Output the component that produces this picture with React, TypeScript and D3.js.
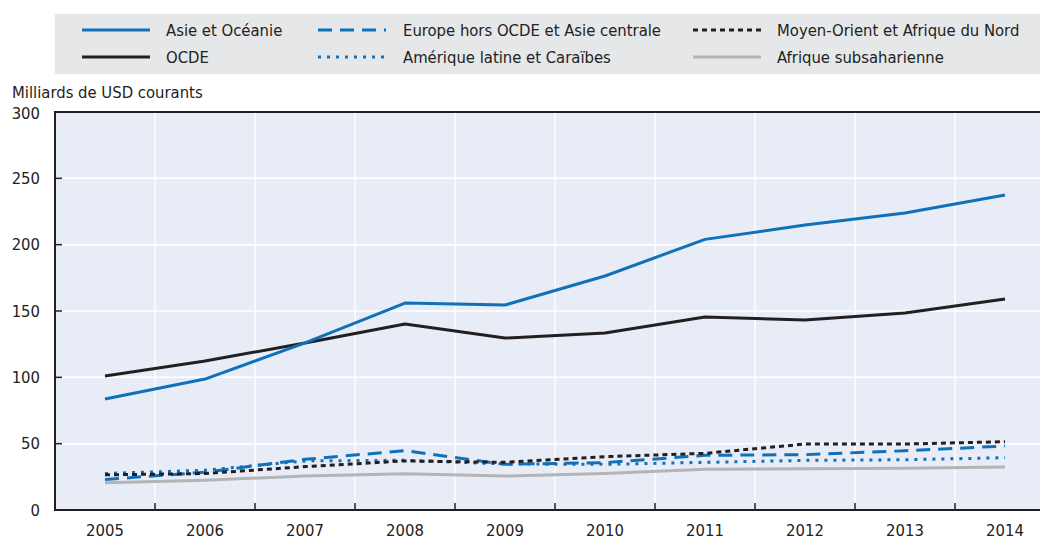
import React from "react";
import * as d3 from "d3";

const years = ["2005", "2006", "2007", "2008", "2009", "2010", "2011", "2012", "2013", "2014"];
const asie = [83.7, 98.7, 126, 156, 154.5, 176.4, 204, 214.8, 223.9, 237.4];
const ocde = [101, 112.3, 125.9, 140.2, 129.6, 133.4, 145.5, 143.2, 148.5, 159];
const europe = [23, 28.5, 38.2, 44.7, 34.4, 35.7, 41.2, 41.7, 44.7, 48.2];
const latam = [27.5, 30, 37, 37.5, 34.7, 34.4, 35.9, 37.4, 37.9, 39.4];
const mena = [26.5, 27.5, 32.7, 37, 35.9, 40.2, 42.7, 49.7, 49.7, 51.5];
const afrique = [20.5, 22.5, 25.6, 27.4, 25.6, 27.5, 30.7, 31, 31.4, 32.4];
const yTicks = [0, 50, 100, 150, 200, 250, 300];

const BLUE = "#1070b8";
const BLACK = "#231f20";
const GREY = "#b4b4b4";

const series = [
  { name: "Asie et Océanie", values: asie, color: BLUE, dash: "", col: 0, row: 0 },
  { name: "OCDE", values: ocde, color: BLACK, dash: "", col: 0, row: 1 },
  { name: "Europe hors OCDE et Asie centrale", values: europe, color: BLUE, dash: "14,8", col: 1, row: 0 },
  { name: "Amérique latine et Caraïbes", values: latam, color: BLUE, dash: "3,6", col: 1, row: 1 },
  { name: "Moyen-Orient et Afrique du Nord", values: mena, color: BLACK, dash: "5,4", col: 2, row: 0 },
  { name: "Afrique subsaharienne", values: afrique, color: GREY, dash: "", col: 2, row: 1 },
];
const drawOrder = [5, 3, 2, 4, 1, 0];

const W = 1040, H = 539;
const left = 55, top = 112, bottom = 510, right = 1040;
const FONT = "'Liberation Sans Narrow', 'DejaVu Sans Condensed', 'Roboto', sans-serif";

export default function App() {
  const x = d3.scaleBand().domain(years).range([left, left + 1000]);
  const y = d3.scaleLinear().domain([0, 300]).range([bottom, top]);
  const cx = (yr: string) => (x(yr) as number) + x.bandwidth() / 2;
  const line = d3.line<number>().x((_, i) => cx(years[i])).y((v) => y(v));
  const legendCols = [
    { lx: 82, tx: 166 },
    { lx: 318, tx: 403 },
    { lx: 693, tx: 777 },
  ];
  const legendRows = [30, 57];
  return (
    <svg width={W} height={H} style={{ position: "absolute", left: 0, top: 0 }} fontFamily={FONT}>
      <rect x={55} y={14} width={985} height={60} fill="#e6e7e8" />
      {series.map((s) => (
        <g key={s.name}>
          <line x1={legendCols[s.col].lx} x2={legendCols[s.col].lx + 68} y1={legendRows[s.row]} y2={legendRows[s.row]}
            stroke={s.color} strokeWidth={3} strokeDasharray={s.dash} />
          <text x={legendCols[s.col].tx} y={legendRows[s.row]} dy="0.35em" fontSize={16.5} fill="#222">{s.name}</text>
        </g>
      ))}
      <text x={12} y={92} dy="0.35em" fontSize={16.5} fill="#222">Milliards de USD courants</text>
      <rect x={left} y={top} width={right - left} height={bottom - top} fill="#e8ecf6" />
      {yTicks.filter((t) => t > 0 && t < 300).map((t) => (
        <line key={t} x1={left} x2={right} y1={y(t)} y2={y(t)} stroke="#fff" strokeWidth={1.5} />
      ))}
      {years.slice(1).map((yr) => (
        <line key={yr} x1={x(yr) as number} x2={x(yr) as number} y1={top} y2={bottom} stroke="#fff" strokeWidth={1.5} />
      ))}
      {drawOrder.map((i) => {
        const s = series[i];
        return <path key={s.name} d={line(s.values) || ""} fill="none" stroke={s.color} strokeWidth={3}
          strokeDasharray={s.dash} strokeLinejoin="round" />;
      })}
      <line x1={left} x2={right} y1={top} y2={top} stroke={BLACK} strokeWidth={2} />
      <line x1={left} x2={left} y1={top - 1} y2={bottom} stroke={BLACK} strokeWidth={2} />
      <line x1={left - 1} x2={right} y1={bottom} y2={bottom} stroke={BLACK} strokeWidth={2} />
      {yTicks.map((t) => (
        <g key={t}>
          {t > 0 && t < 300 && <line x1={left} x2={left + 7} y1={y(t)} y2={y(t)} stroke={BLACK} strokeWidth={1.5} />}
          <text x={40} y={t === 300 ? y(t) + 1 : y(t)} dy="0.35em" textAnchor="end" fontSize={16.5} fill="#222">{t}</text>
        </g>
      ))}
      {years.slice(1).map((yr) => (
        <line key={yr} x1={x(yr) as number} x2={x(yr) as number} y1={bottom} y2={bottom - 7} stroke={BLACK} strokeWidth={1.5} />
      ))}
      {years.map((yr) => (
        <text key={yr} x={cx(yr)} y={530} dy="0.35em" textAnchor="middle" fontSize={16.5} fill="#222">{yr}</text>
      ))}
    </svg>
  );
}
